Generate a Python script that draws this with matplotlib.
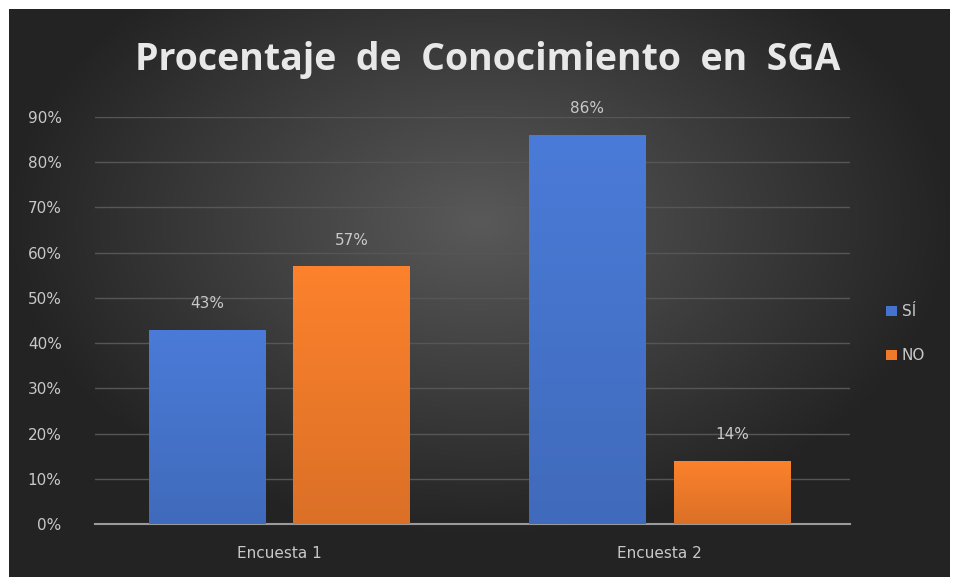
import matplotlib
matplotlib.use("Agg")
import matplotlib.pyplot as plt
import numpy as np

categories = ["Encuesta 1", "Encuesta 2"]
series_names = ["SÍ", "NO"]
si_values = [43, 86]
no_values = [57, 14]
y_ticks = [0, 10, 20, 30, 40, 50, 60, 70, 80, 90]

blue = "#4674cc"
orange = "#ee7a2a"
text_col = "#c8c8c8"

fig = plt.figure(figsize=(9.54, 5.79), dpi=100)
fig.patch.set_facecolor("white")

# dark radial background panel inside the white frame
W, H = 954, 579
x0, x1, y0, y1 = 9, 950, 9, 577
bg = fig.add_axes([x0 / W, 1 - y1 / H, (x1 - x0) / W, (y1 - y0) / H])
gx, gy = np.meshgrid(np.linspace(-1, 1, 400), np.linspace(-1, 1, 250))
r = np.sqrt((gx / 1.0) ** 2 + ((gy + 0.25) / 1.1) ** 2)
shade = np.clip(0.35 - 0.21 * r, 0.14, 0.35)
bg.imshow(np.dstack([shade] * 3), aspect="auto", extent=[0, 1, 0, 1])
bg.axis("off")

ax = fig.add_axes([95 / W, 1 - 524 / H, (850 - 95) / W, (524 - 117) / H])
ax.set_facecolor("none")

x = np.arange(len(categories))
width = 0.305
offset = 0.19


def gradient_bars(container, base):
    rgb = np.array(matplotlib.colors.to_rgb(base))
    for patch in container:
        bx, by = patch.get_x(), patch.get_y()
        bw, bh = patch.get_width(), patch.get_height()
        t = np.linspace(0, 1, 64)[:, None]
        img = np.clip(rgb[None, :] * (0.92 + 0.14 * t), 0, 1)[:, None, :]
        img = np.repeat(img, 2, axis=1)
        im = ax.imshow(img, extent=[bx, bx + bw, by, by + bh], origin="lower",
                       aspect="auto", zorder=3)
        im.set_clip_path(patch)


b1 = ax.bar(x - offset, si_values, width, color=blue, label=series_names[0], zorder=2)
b2 = ax.bar(x + offset, no_values, width, color=orange, label=series_names[1], zorder=2)
gradient_bars(b1, blue)
gradient_bars(b2, orange)

for bars, vals in ((b1, si_values), (b2, no_values)):
    for patch, v in zip(bars, vals):
        ax.text(patch.get_x() + patch.get_width() / 2, v + 5.8, f"{v}%",
                ha="center", va="center", color=text_col, fontsize=11)

ax.set_xlim(-0.484, 1.5)
ax.set_ylim(0, 90)
ax.set_yticks(y_ticks)
ax.set_yticklabels([f"{t}%" for t in y_ticks])
ax.set_xticks(x)
ax.set_xticklabels(categories)
ax.tick_params(axis="both", length=0, colors=text_col, labelsize=11)
ax.tick_params(axis="y", pad=24)
ax.tick_params(axis="x", pad=16)
ax.grid(axis="y", color="#565656", linewidth=1, zorder=0)
ax.set_axisbelow(True)
for s in ["top", "right", "left"]:
    ax.spines[s].set_visible(False)
ax.spines["bottom"].set_color("#9a9a9a")
ax.spines["bottom"].set_linewidth(1.5)

leg = ax.legend(loc="center left", bbox_to_anchor=(1.03, 0.467), frameon=False,
                handlelength=0.7, handleheight=0.7, handletextpad=0.3,
                labelspacing=1.9, fontsize=11)
for t in leg.get_texts():
    t.set_color(text_col)

fig.text(0.511, 1 - 60 / H, "Procentaje  de  Conocimiento  en  SGA", ha="center",
         va="center", color="#e8e8e8", fontsize=27, fontweight="bold",
         family="Open Sans")

fig.savefig("out.png", dpi=100, facecolor=fig.get_facecolor())
